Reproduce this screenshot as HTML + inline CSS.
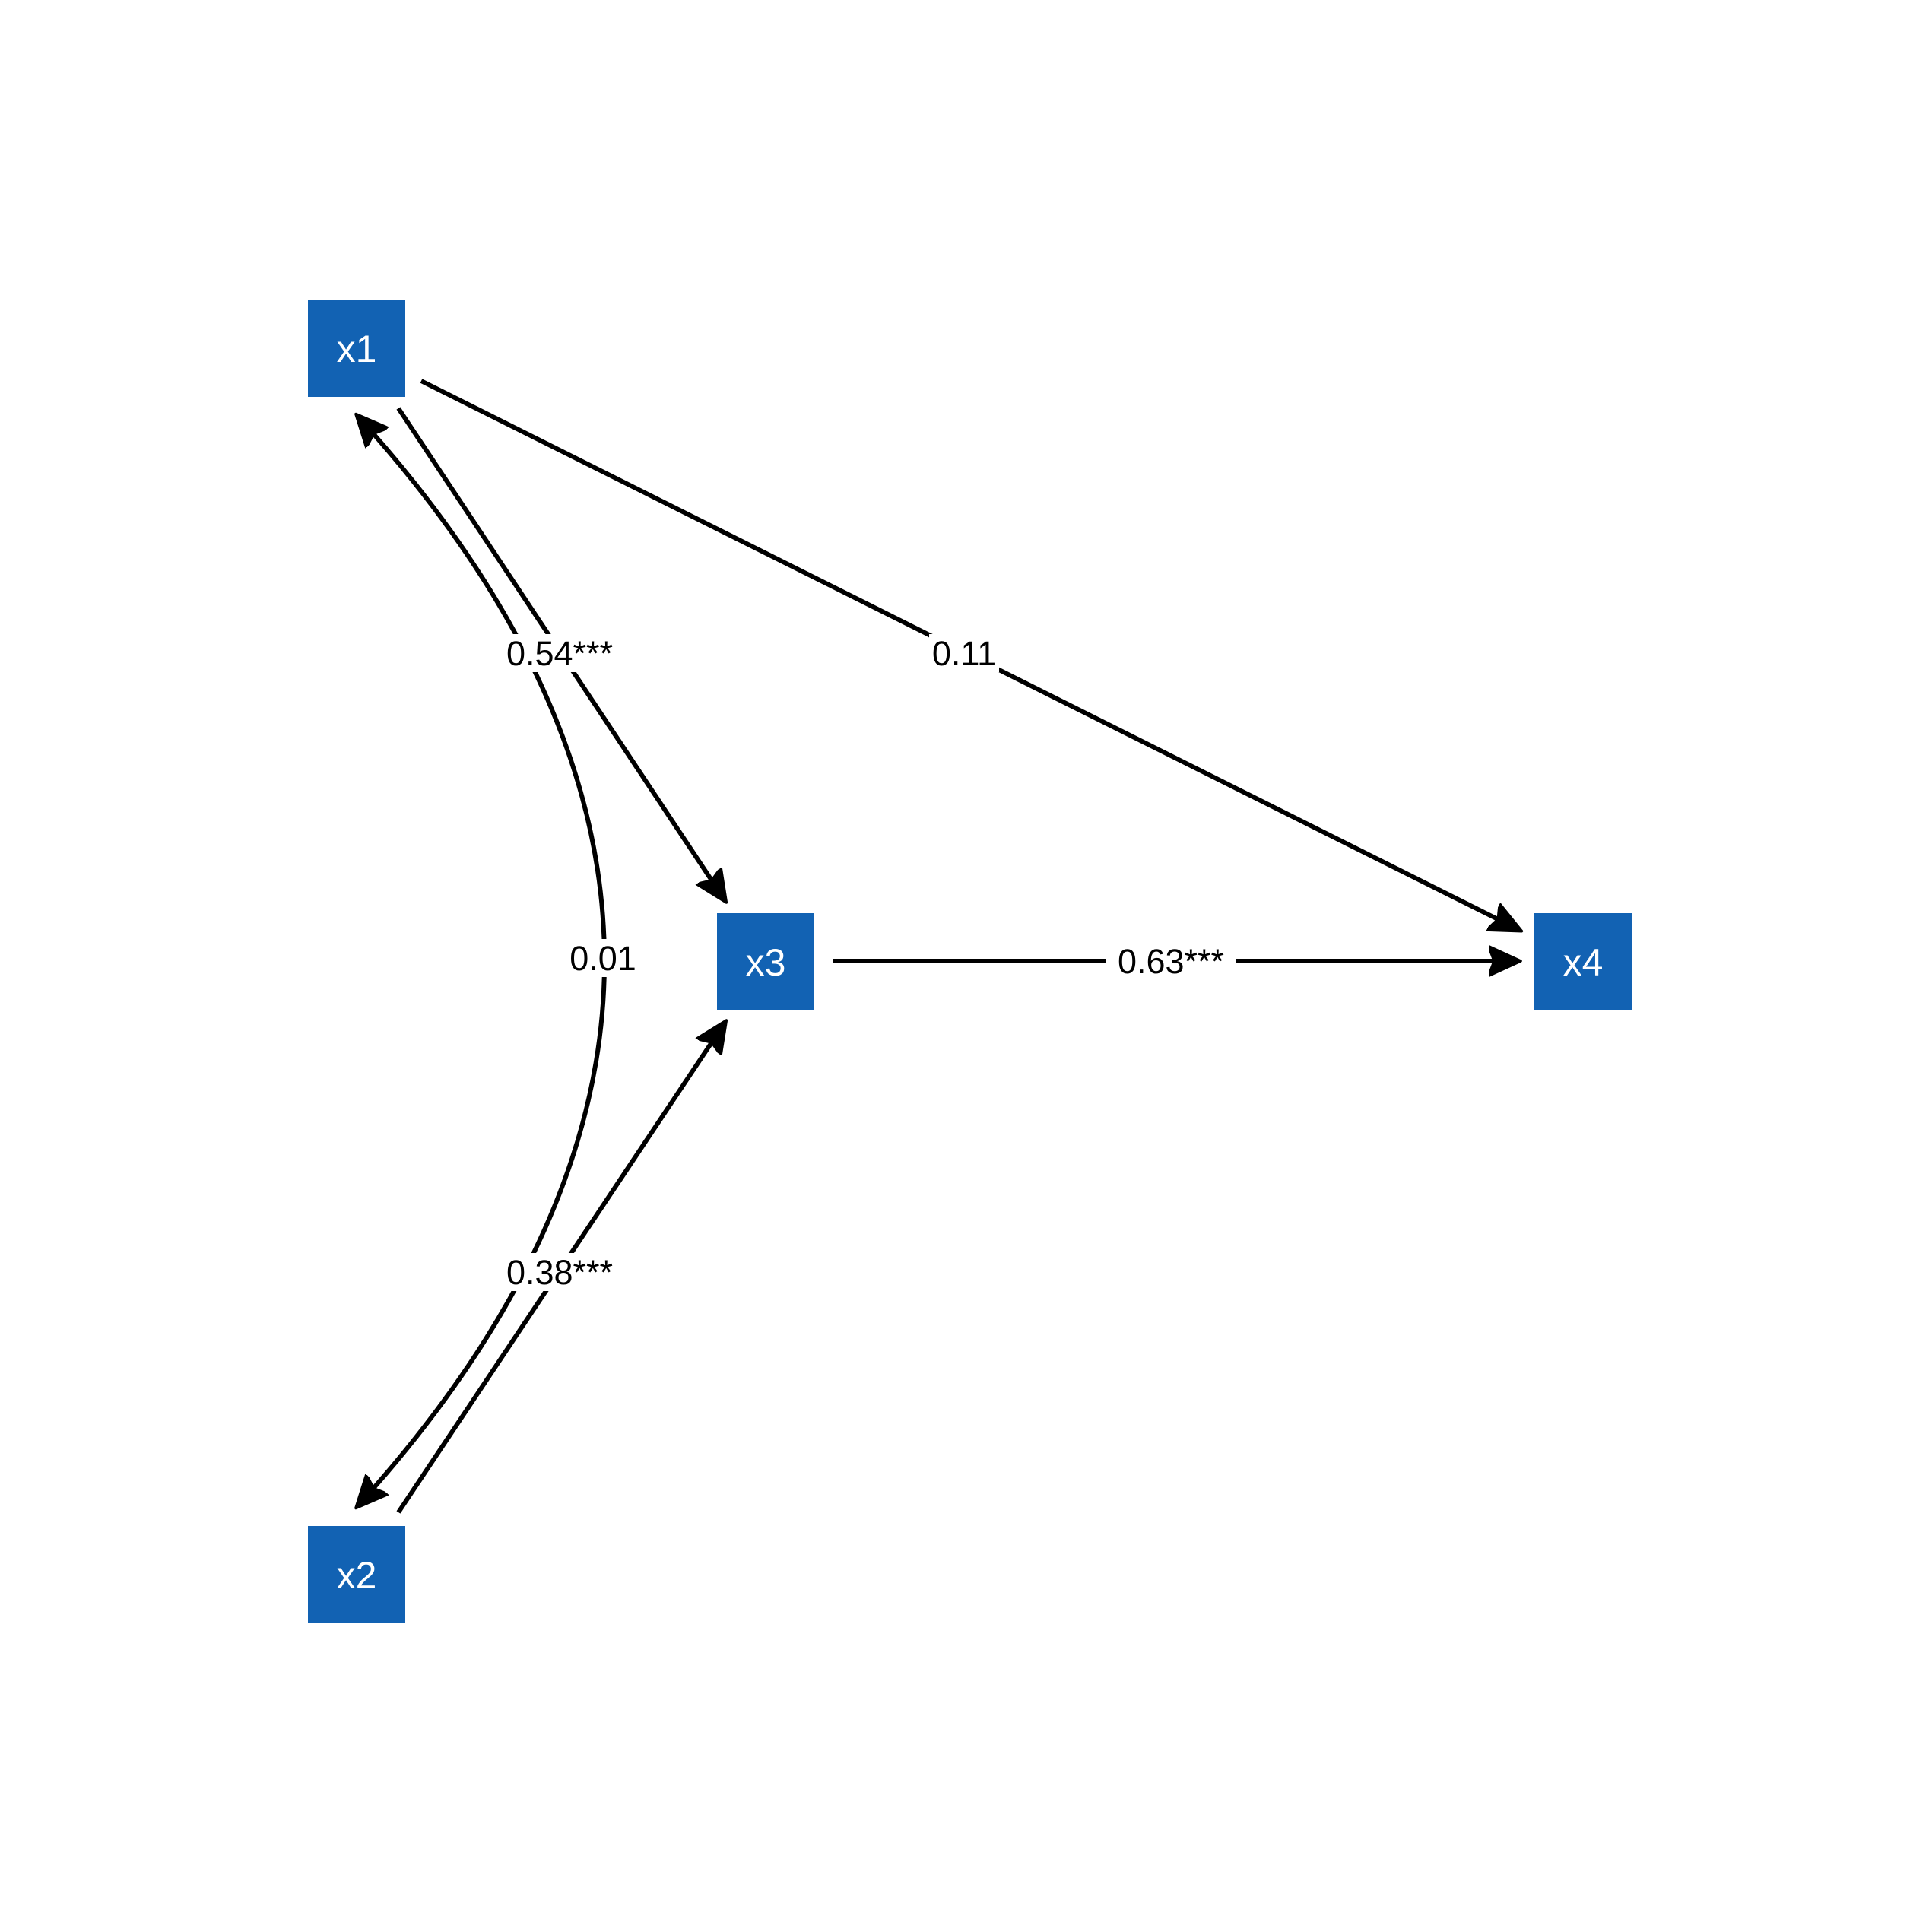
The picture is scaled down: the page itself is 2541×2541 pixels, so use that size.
<!DOCTYPE html>
<html><head><meta charset="utf-8"><style>
html,body{margin:0;padding:0;background:#fff;}
svg{display:block;}
text{font-family:"Liberation Sans",Arial,sans-serif;}
</style></head><body>
<svg width="2541" height="2541" viewBox="0 0 2541 2541" xmlns="http://www.w3.org/2000/svg">
<defs>
<marker id="ah" markerWidth="8" markerHeight="8" refX="6" refY="4" orient="auto-start-reverse" markerUnits="strokeWidth">
<path d="M0,0.8 L7,4 L0,7.2 L1.2,4 Z" fill="#000" stroke="#000" stroke-width="0.6" stroke-linejoin="round"/>
</marker>
</defs>
<g stroke="#000" stroke-width="6" fill="none">
<line x1="554" y1="501" x2="1996" y2="1222" marker-end="url(#ah)"/>
<line x1="524" y1="537" x2="952" y2="1182" marker-end="url(#ah)"/>
<line x1="524" y1="1989" x2="952" y2="1347" marker-end="url(#ah)"/>
<line x1="1096" y1="1264" x2="1994" y2="1264" marker-end="url(#ah)"/>
<path d="M472,549 Q1118,1264 472,1979" marker-start="url(#ah)" marker-end="url(#ah)"/>
</g>
<g fill="#1262b3">
<rect x="405" y="394" width="128" height="128"/>
<rect x="405" y="2007" width="128" height="128"/>
<rect x="943" y="1201" width="128" height="128"/>
<rect x="2018" y="1201" width="128" height="128"/>
</g>
<g fill="#fff" font-size="50" text-anchor="middle">
<text x="469" y="476">x1</text>
<text x="469" y="2089">x2</text>
<text x="1007" y="1283">x3</text>
<text x="2082" y="1283">x4</text>
</g>
<g fill="#fff">
<rect x="662" y="834" width="148" height="50"/>
<rect x="1222" y="834" width="92" height="50"/>
<rect x="747" y="1235" width="92" height="50"/>
<rect x="662" y="1648" width="148" height="50"/>
<rect x="1455" y="1239" width="170" height="50"/>
</g>
<g fill="#000" font-size="45" text-anchor="middle">
<text x="736" y="875">0.54***</text>
<text x="1268" y="875">0.11</text>
<text x="793" y="1276">0.01</text>
<text x="736" y="1689">0.38***</text>
<text x="1540" y="1280">0.63***</text>
</g>
</svg>
</body></html>
